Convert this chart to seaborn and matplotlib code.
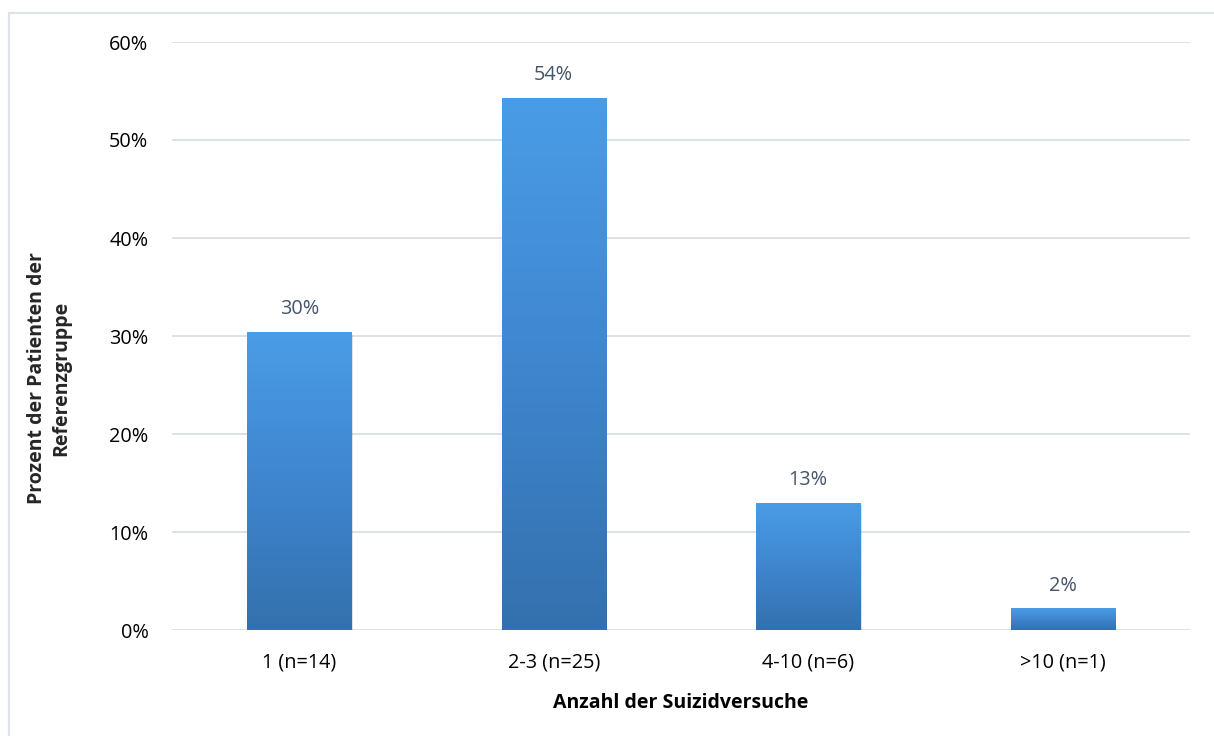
import numpy as np
import pandas as pd
import matplotlib
matplotlib.use("Agg")
import matplotlib.pyplot as plt
import matplotlib.patches as mpatches
from matplotlib.colors import LinearSegmentedColormap
import seaborn as sns

# Data: share of patients in the reference group per number of suicide attempts
categories = ["1 (n=14)", "2-3 (n=25)", "4-10 (n=6)", ">10 (n=1)"]
shares = [30.4, 54.3, 13.0, 2.2]  # percent
y_ticks = [0, 10, 20, 30, 40, 50, 60]

df = pd.DataFrame({"Gruppe": categories, "Anteil": shares})

sns.set_theme(style="white")
plt.rcParams["font.family"] = ["Open Sans", "DejaVu Sans"]

FS = 14.3
W, H = 1214, 736
fig = plt.figure(figsize=(W / 100, H / 100), dpi=100)
ax = fig.add_axes([172 / W, 1 - 630 / H, (1190 - 172) / W, (630 - 42) / H])

sns.barplot(data=df, x="Gruppe", y="Anteil", ax=ax, width=0.41,
            color="#3F85CC", saturation=1, edgecolor="none", zorder=3)

ax.set_xlim(-0.5, 3.5)
ax.set_ylim(0, 60)
ax.set_yticks(y_ticks)
ax.set_yticklabels([f"{t}%" for t in y_ticks])

# Horizontal grid lines
ax.grid(False)
for t in y_ticks:
    ax.axhline(t, color="#DDE2E9", lw=1.4, zorder=1)

for s in ax.spines.values():
    s.set_visible(False)

ax.tick_params(axis="both", length=0, labelsize=FS, colors="#000000")
ax.tick_params(axis="y", pad=17)
ax.tick_params(axis="x", pad=16)
ax.set_xlabel("Anzahl der Suizidversuche", fontsize=FS - 0.3, fontweight="bold",
              labelpad=15, color="#000000")
ax.set_ylabel("")

# Vertical gradient fill for each bar with a faint drop shadow
cmap = LinearSegmentedColormap.from_list("barfill", ["#3470AD", "#3F86CF", "#4A9CE6"])
grad = np.linspace(0, 1, 256).reshape(-1, 1)
for patch in list(ax.patches):
    x0, y0 = patch.get_x(), patch.get_y()
    w, h = patch.get_width(), patch.get_height()
    shadow = mpatches.Rectangle((x0 + 0.006, y0 - 0.25), w, h, facecolor="#000000",
                                alpha=0.12, edgecolor="none", zorder=2)
    ax.add_patch(shadow)
    im = ax.imshow(grad, extent=(x0, x0 + w, y0, y0 + h), origin="lower",
                   cmap=cmap, aspect="auto", zorder=4)
    im.set_clip_path(patch)
    ax.text(x0 + w / 2, y0 + h + 1.3, f"{h:.0f}%", ha="center", va="bottom",
            fontsize=FS, color="#44546A", zorder=5)

ax.set_xlim(-0.5, 3.5)
ax.set_ylim(0, 60)

# Y axis title in two lines
fig.text(49 / W, 1 - 378 / H, "Prozent der Patienten der\nReferenzgruppe",
         rotation=90, ha="center", va="center", fontsize=FS - 0.3,
         fontweight="bold", linespacing=1.3, multialignment="center")

# Light chart-area border
fig.add_artist(plt.Line2D([9 / W, 9 / W], [0, 1 - 12.5 / H], color="#DDE3EA",
                          lw=1.6, transform=fig.transFigure))
fig.add_artist(plt.Line2D([9 / W, 1], [1 - 12.5 / H, 1 - 12.5 / H], color="#DDE3EA",
                          lw=1.6, transform=fig.transFigure))

fig.savefig("out.png", dpi=100, facecolor="white")
